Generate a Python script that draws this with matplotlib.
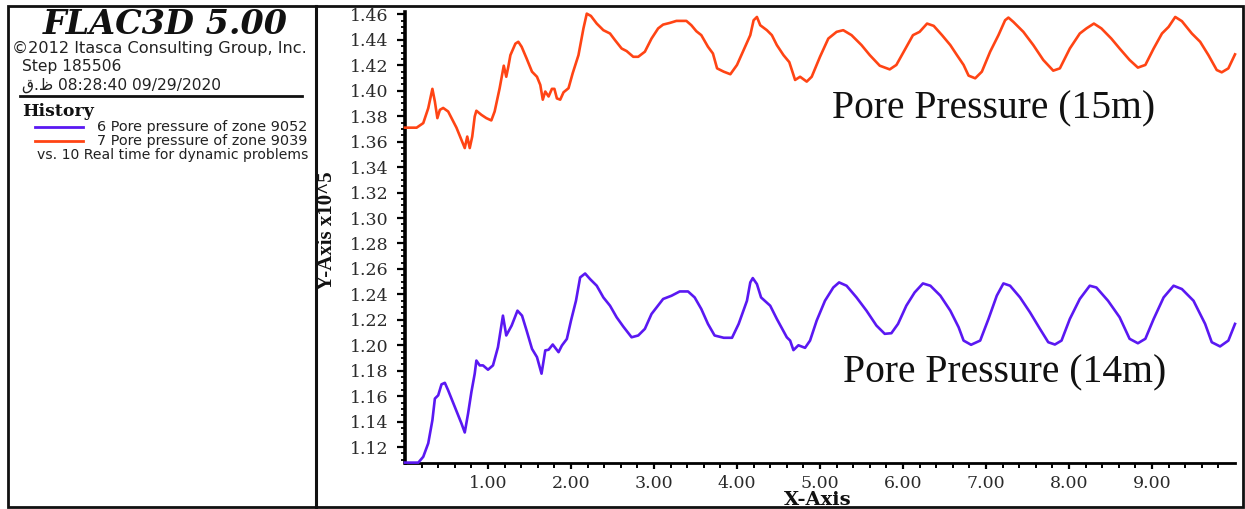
import matplotlib
matplotlib.use("Agg")
import matplotlib.pyplot as plt
from matplotlib.patches import Rectangle
from matplotlib.lines import Line2D
from matplotlib.ticker import MultipleLocator, FixedLocator, FuncFormatter

# ---- history data: real time (s) vs. pore pressure (x10^5 Pa) ----
time_15m = [0.00, 0.14, 0.22, 0.28, 0.33, 0.36, 0.39, 0.42, 0.46, 0.52, 0.62, 0.72, 0.75, 0.78, 0.81,
            0.84, 0.86, 0.92, 0.98, 1.04, 1.08, 1.14, 1.19, 1.22, 1.245, 1.27, 1.33, 1.365, 1.405,
            1.465, 1.53, 1.59, 1.63, 1.66, 1.69, 1.73, 1.77, 1.80, 1.83, 1.87, 1.91, 1.97, 2.02,
            2.09, 2.15, 2.19, 2.24, 2.31, 2.39, 2.47, 2.53, 2.61, 2.67, 2.75, 2.81, 2.89, 2.97,
            3.05, 3.11, 3.19, 3.27, 3.39, 3.45, 3.51, 3.57, 3.65, 3.71, 3.76, 3.84, 3.92, 4.00,
            4.08, 4.16, 4.20, 4.24, 4.28, 4.36, 4.42, 4.48, 4.56, 4.63, 4.70, 4.76, 4.84, 4.90,
            5.00, 5.10, 5.20, 5.28, 5.38, 5.50, 5.60, 5.72, 5.84, 5.92, 6.02, 6.12, 6.20, 6.29,
            6.37, 6.47, 6.57, 6.65, 6.73, 6.79, 6.87, 6.95, 7.05, 7.15, 7.23, 7.27, 7.33, 7.45,
            7.57, 7.69, 7.81, 7.89, 8.01, 8.13, 8.21, 8.30, 8.39, 8.51, 8.61, 8.73, 8.83, 8.92,
            9.02, 9.12, 9.20, 9.28, 9.36, 9.48, 9.58, 9.68, 9.78, 9.84, 9.92, 10.00]
pore_15m = [1.3710, 1.3710, 1.3746, 1.3863, 1.4015, 1.3915, 1.3785, 1.3850, 1.3865, 1.3837, 1.3710,
            1.3550, 1.3640, 1.3550, 1.3640, 1.3798, 1.3843, 1.3811, 1.3785, 1.3767, 1.3837, 1.4019,
            1.4197, 1.4110, 1.4190, 1.4280, 1.4370, 1.4385, 1.4346, 1.4254, 1.4150, 1.4110, 1.4046,
            1.3930, 1.3994, 1.3955, 1.4015, 1.4015, 1.3940, 1.3930, 1.3988, 1.4020, 1.4137, 1.4280,
            1.4490, 1.4606, 1.4588, 1.4528, 1.4476, 1.4450, 1.4398, 1.4332, 1.4312, 1.4267, 1.4267,
            1.4307, 1.4410, 1.4490, 1.4520, 1.4533, 1.4549, 1.4549, 1.4515, 1.4468, 1.4437, 1.4346,
            1.4293, 1.4176, 1.4150, 1.4130, 1.4203, 1.4320, 1.4437, 1.4554, 1.4580, 1.4515, 1.4476,
            1.4437, 1.4359, 1.4280, 1.4225, 1.4085, 1.4110, 1.4072, 1.4110, 1.4267, 1.4410, 1.4463,
            1.4476, 1.4437, 1.4359, 1.4280, 1.4197, 1.4168, 1.4203, 1.4320, 1.4437, 1.4463, 1.4528,
            1.4510, 1.4437, 1.4359, 1.4280, 1.4203, 1.4119, 1.4098, 1.4150, 1.4307, 1.4437, 1.4554,
            1.4575, 1.4541, 1.4463, 1.4359, 1.4242, 1.4158, 1.4176, 1.4332, 1.4450, 1.4490, 1.4528,
            1.4490, 1.4410, 1.4332, 1.4242, 1.4182, 1.4203, 1.4332, 1.4450, 1.4502, 1.4580, 1.4547,
            1.4450, 1.4385, 1.4280, 1.4163, 1.4145, 1.4176, 1.4286]

time_14m = [0.00, 0.16, 0.22, 0.28, 0.33, 0.36, 0.40, 0.44, 0.48, 0.52, 0.60, 0.68, 0.72, 0.76, 0.80,
            0.84, 0.86, 0.90, 0.94, 1.00, 1.06, 1.12, 1.18, 1.22, 1.285, 1.355, 1.41, 1.465, 1.53,
            1.59, 1.645, 1.69, 1.73, 1.78, 1.85, 1.89, 1.95, 2.00, 2.06, 2.11, 2.17, 2.23, 2.31,
            2.39, 2.47, 2.55, 2.63, 2.73, 2.81, 2.89, 2.97, 3.11, 3.21, 3.31, 3.41, 3.49, 3.57,
            3.65, 3.73, 3.84, 3.94, 4.02, 4.12, 4.16, 4.19, 4.24, 4.29, 4.40, 4.48, 4.60, 4.64,
            4.68, 4.74, 4.82, 4.88, 4.96, 5.06, 5.16, 5.23, 5.32, 5.44, 5.56, 5.68, 5.78, 5.86,
            5.94, 6.04, 6.14, 6.24, 6.33, 6.45, 6.57, 6.67, 6.73, 6.82, 6.93, 7.03, 7.13, 7.21,
            7.29, 7.41, 7.53, 7.65, 7.75, 7.83, 7.91, 8.01, 8.13, 8.25, 8.33, 8.47, 8.61, 8.73,
            8.83, 8.92, 9.02, 9.14, 9.26, 9.36, 9.50, 9.64, 9.72, 9.82, 9.92, 10.00]
pore_14m = [1.1078, 1.1078, 1.1124, 1.1230, 1.1411, 1.1581, 1.1607, 1.1693, 1.1705, 1.1646, 1.1516,
            1.1386, 1.1315, 1.1464, 1.1633, 1.1777, 1.1880, 1.1842, 1.1842, 1.1808, 1.1842, 1.1985,
            1.2233, 1.2077, 1.2155, 1.2272, 1.2233, 1.2116, 1.1972, 1.1907, 1.1777, 1.1960, 1.1965,
            1.2006, 1.1946, 1.1998, 1.2050, 1.2194, 1.2350, 1.2533, 1.2564, 1.2520, 1.2468, 1.2376,
            1.2311, 1.2220, 1.2147, 1.2063, 1.2077, 1.2129, 1.2246, 1.2364, 1.2389, 1.2423, 1.2423,
            1.2376, 1.2285, 1.2168, 1.2077, 1.2059, 1.2059, 1.2168, 1.2350, 1.2494, 1.2528, 1.2481,
            1.2376, 1.2311, 1.2207, 1.2063, 1.2037, 1.1962, 1.2000, 1.1980, 1.2037, 1.2194, 1.2350,
            1.2454, 1.2494, 1.2468, 1.2376, 1.2272, 1.2155, 1.2090, 1.2095, 1.2168, 1.2311, 1.2415,
            1.2486, 1.2468, 1.2390, 1.2272, 1.2142, 1.2037, 1.2004, 1.2037, 1.2207, 1.2390, 1.2486,
            1.2468, 1.2376, 1.2259, 1.2129, 1.2024, 1.2006, 1.2037, 1.2207, 1.2364, 1.2468, 1.2454,
            1.2350, 1.2220, 1.2051, 1.2016, 1.2051, 1.2207, 1.2376, 1.2468, 1.2442, 1.2350, 1.2168,
            1.2024, 1.1991, 1.2037, 1.2168]

y_tick_values = [1.12, 1.14, 1.16, 1.18, 1.20, 1.22, 1.24, 1.26, 1.28, 1.30,
                 1.32, 1.34, 1.36, 1.38, 1.40, 1.42, 1.44, 1.46]
x_tick_values = [1, 2, 3, 4, 5, 6, 7, 8, 9]

series_labels = ["6 Pore pressure of zone 9052", "7 Pore pressure of zone 9039"]
x_axis_label = "vs. 10 Real time for dynamic problems"
curve_labels = ["Pore Pressure (14m)", "Pore Pressure (15m)"]

BLUE = "#5a18f2"
RED = "#ff4414"
W, H = 1245, 509


def fx(x):
    return x / W


def fy(y):
    return 1 - y / H


fig = plt.figure(figsize=(W / 100, H / 100), dpi=100)
fig.patch.set_facecolor("white")

# ---- outer frame and panel divider ----
fig.add_artist(Rectangle((fx(8), fy(507)), fx(1243) - fx(8), fy(6) - fy(507),
                         transform=fig.transFigure, fill=False, lw=2.0, ec="#111111", zorder=5))
fig.add_artist(Line2D([fx(316), fx(316)], [fy(6), fy(507)], transform=fig.transFigure,
                      lw=2.2, color="#111111", zorder=5))

# ---- title block ----
sans = ["DejaVu Sans"]
fig.text(fx(165), fy(24), "FLAC3D 5.00", ha="center", va="center",
         family="DejaVu Serif", weight="bold", style="italic", fontsize=24, color="#111111")
fig.text(fx(12), fy(48), "\u00a92012 Itasca Consulting Group, Inc.", ha="left", va="center",
         family=sans, fontsize=11.6, color="#222222")
fig.text(fx(22), fy(66), "Step 185506", ha="left", va="center",
         family=sans, fontsize=11.2, color="#222222")
fig.text(fx(22), fy(85), "\u0642.\u0638 08:28:40 09/29/2020", ha="left", va="center",
         family=sans, fontsize=11.2, color="#222222")
fig.add_artist(Line2D([fx(20), fx(302)], [fy(96), fy(96)], transform=fig.transFigure,
                      lw=2.0, color="#111111"))
fig.text(fx(22), fy(112), "History", ha="left", va="center",
         family="DejaVu Serif", weight="bold", fontsize=12.5, color="#111111")

for yy, col, lab in [(127, BLUE, series_labels[0]), (141, RED, series_labels[1])]:
    fig.add_artist(Line2D([fx(35), fx(83)], [fy(yy), fy(yy)], transform=fig.transFigure,
                          lw=2.0, color=col))
    fig.text(fx(97), fy(yy), lab, ha="left", va="center",
             family=sans, fontsize=10.4, color="#222222")
fig.text(fx(37), fy(155), x_axis_label, ha="left", va="center",
         family=sans, fontsize=10.1, color="#222222")

# ---- history plot ----
ax = fig.add_axes([fx(405), fy(463), fx(1235) - fx(405), fy(12.5) - fy(463)])
ax.set_xlim(0, 10.0)
ax.set_ylim(1.1075, 1.4615)

ax.plot(time_14m, pore_14m, color=BLUE, lw=1.9, zorder=3, clip_on=False)
ax.plot(time_15m, pore_15m, color=RED, lw=1.9, zorder=3, clip_on=False)

for s in ["top", "right"]:
    ax.spines[s].set_visible(False)
ax.spines["left"].set_linewidth(2.6)
ax.spines["bottom"].set_linewidth(2.0)

ax.yaxis.set_major_locator(FixedLocator(y_tick_values))
ax.yaxis.set_minor_locator(MultipleLocator(0.005))
ax.xaxis.set_major_locator(FixedLocator(x_tick_values))
ax.xaxis.set_minor_locator(FixedLocator([i * 0.2 for i in range(1, 50) if i % 5]))
ax.yaxis.set_major_formatter(FuncFormatter(lambda v, p: f"{v:.2f}"))
ax.xaxis.set_major_formatter(FuncFormatter(lambda v, p: f"{v:.2f}"))

ax.tick_params(axis="y", which="major", direction="out", length=6, width=1.6, pad=6,
               labelsize=12.5, labelcolor="#2a2a2a")
ax.tick_params(axis="y", which="minor", direction="out", length=3, width=1.3)
ax.tick_params(axis="x", which="major", direction="out", length=4.5, width=1.6, pad=4,
               labelsize=12.5, labelcolor="#2a2a2a")
ax.tick_params(axis="x", which="minor", direction="out", length=3.5, width=1.4)
for lab in ax.get_xticklabels() + ax.get_yticklabels():
    lab.set_family("DejaVu Serif")

fig.text(fx(327), fy(231), "Y-Axis x10^5", rotation=90, ha="center", va="center",
         family="Liberation Serif", weight="bold", fontsize=15, color="#111111")
fig.text(fx(818), fy(500), "X-Axis", ha="center", va="center",
         family="DejaVu Serif", weight="bold", fontsize=14, color="#111111")

ax.text(5.14, 1.3782, curve_labels[1], ha="left", va="baseline",
        family="Liberation Serif", fontsize=28.5, color="#111111")
ax.text(5.28, 1.1709, curve_labels[0], ha="left", va="baseline",
        family="Liberation Serif", fontsize=28.5, color="#111111")

fig.savefig("out.png", dpi=100, facecolor="white")
